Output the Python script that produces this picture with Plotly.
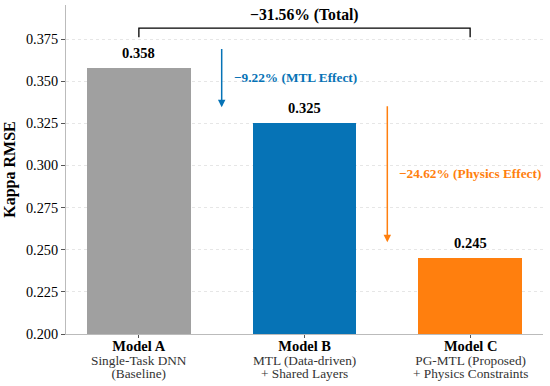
import plotly.graph_objects as go

models = ["Model A", "Model B", "Model C"]
subtitle1 = ["Single-Task DNN", "MTL (Data-driven)", "PG-MTL (Proposed)"]
subtitle2 = ["(Baseline)", "+ Shared Layers", "+ Physics Constraints"]
rmse = [0.358, 0.325, 0.245]
colors = ["#A0A0A0", "#0673B6", "#FF7F0E"]
value_labels = ["0.358", "0.325", "0.245"]
mtl_text = "−9.22% (MTL Effect)"
phys_text = "−24.62% (Physics Effect)"
total_text = "−31.56% (Total)"
yticks = [0.200, 0.225, 0.250, 0.275, 0.300, 0.325, 0.350, 0.375]

FONT = "Liberation Serif, Times New Roman, serif"
xs = list(range(len(models)))

fig = go.Figure()
fig.add_trace(go.Bar(
    x=xs, y=rmse, width=0.625, marker=dict(color=colors, line=dict(width=0)),
    base=0, showlegend=False, hoverinfo="skip"))

ann = []
# value labels
for i, v in enumerate(rmse):
    ann.append(dict(x=i, y=v, text="<b>%s</b>" % value_labels[i], showarrow=False,
                    yanchor="bottom", yshift=5, font=dict(size=14.5, color="black", family=FONT)))
# x labels (one block per category, tight line spacing)
for i in xs:
    txt = ('<span style="font-size:14.5px;color:black"><b>%s</b></span><br>'
           '<span style="font-size:13.3px">%s</span><br>'
           '<span style="font-size:13.3px">%s</span>') % (models[i], subtitle1[i], subtitle2[i])
    ann.append(dict(x=i, y=0, yref="paper", yanchor="top", yshift=-2, showarrow=False,
                    text=txt, align="center", font=dict(size=10.4, color="#333333", family=FONT)))

# MTL arrow
ann.append(dict(x=0.5, y=rmse[1] + 0.0095, ax=0.5, ay=rmse[0] + 0.012, xref="x", yref="y",
                axref="x", ayref="y", showarrow=True, arrowhead=2, arrowsize=1, arrowwidth=1.5,
                arrowcolor=colors[1], text=""))
ann.append(dict(x=0.56, y=0.352, text="<b>%s</b>" % mtl_text, showarrow=False, xanchor="left",
                font=dict(size=13.3, color=colors[1], family=FONT)))
# Physics arrow
ann.append(dict(x=1.5, y=rmse[2] + 0.0095, ax=1.5, ay=rmse[1] + 0.011, xref="x", yref="y",
                axref="x", ayref="y", showarrow=True, arrowhead=2, arrowsize=1, arrowwidth=1.5,
                arrowcolor=colors[2], text=""))
ann.append(dict(x=1.56, y=0.2955, text="<b>%s</b>" % phys_text, showarrow=False, xanchor="left",
                font=dict(size=13.3, color=colors[2], family=FONT)))
# total
bracket_y = max(rmse) + 0.0235
ann.append(dict(x=1, y=bracket_y, text="<b>%s</b>" % total_text, showarrow=False,
                yanchor="bottom", yshift=2, font=dict(size=15.7, color="black", family=FONT)))

shapes = [dict(type="path", xref="x", yref="y",
               path="M 0 %f L 0 %f L 2 %f L 2 %f" % (bracket_y - 0.0055, bracket_y, bracket_y, bracket_y - 0.0055),
               line=dict(color="black", width=1.3))]

fig.update_layout(
    width=550, height=386,
    margin=dict(l=66, r=7, t=5, b=52),
    plot_bgcolor="white", paper_bgcolor="white",
    font=dict(family=FONT, size=14, color="black"),
    bargap=0,
    annotations=ann, shapes=shapes,
    xaxis=dict(range=[-0.44, 2.44], tickvals=xs, ticktext=["", "", ""], ticks="outside",
               ticklen=3, tickcolor="#555", showline=True, linecolor="#bbbbbb", linewidth=1,
               showgrid=False, zeroline=False, fixedrange=True),
    yaxis=dict(range=[0.2, 0.3952], tickvals=yticks, ticktext=["%.3f" % t for t in yticks],
               ticks="outside", ticklen=4, tickcolor="#555", showline=True, linecolor="#bbbbbb",
               linewidth=1, showgrid=True, gridcolor="#e6e6e6", griddash="dot", gridwidth=1,
               zeroline=False, tickfont=dict(size=14.3),
               title=dict(text="<b>Kappa RMSE</b>", font=dict(size=16), standoff=6)),
)

fig.write_html("out.html", config={"displayModeBar": False},
               post_script="document.body.style.margin='0';document.body.style.overflow='hidden';")
